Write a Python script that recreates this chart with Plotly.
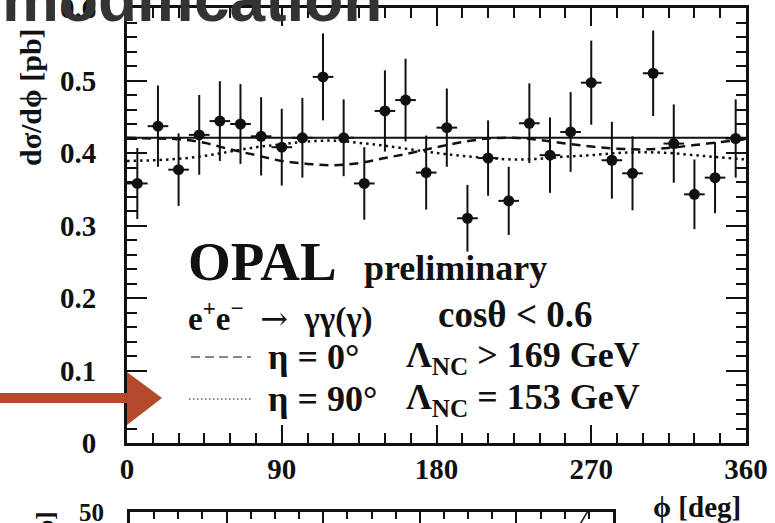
import plotly.graph_objects as go

W, H = 775, 523

# ---------------- data ----------------
phi_centers = [6, 18, 30, 42, 54, 66, 78, 90, 102, 114, 126, 138, 150, 162, 174,
               186, 198, 210, 222, 234, 246, 258, 270, 282, 294, 306, 318, 330, 342, 354]
phi_halfwidth = [6] * 30
dsig = [0.358, 0.437, 0.377, 0.425, 0.444, 0.440, 0.423, 0.408, 0.421, 0.505,
        0.421, 0.358, 0.458, 0.473, 0.373, 0.435, 0.310, 0.393, 0.334, 0.441,
        0.397, 0.429, 0.497, 0.390, 0.372, 0.510, 0.413, 0.343, 0.366, 0.420]
dsig_err = [0.049, 0.056, 0.050, 0.055, 0.055, 0.055, 0.054, 0.053, 0.055, 0.060,
            0.053, 0.050, 0.056, 0.057, 0.051, 0.054, 0.046, 0.052, 0.047, 0.055,
            0.052, 0.055, 0.058, 0.053, 0.051, 0.059, 0.054, 0.048, 0.049, 0.054]

sm_phi = [0, 360]
sm_value = [0.421, 0.421]

model_phi = [0, 15, 30, 45, 60, 75, 90, 105, 120, 135, 150, 165, 180,
             195, 210, 225, 240, 255, 270, 285, 300, 315, 330, 345, 360]
eta0 = [0.421, 0.420, 0.419, 0.414, 0.405, 0.397, 0.389, 0.385, 0.383, 0.386,
        0.393, 0.400, 0.408, 0.415, 0.420, 0.421, 0.418, 0.413, 0.409, 0.406,
        0.405, 0.407, 0.411, 0.415, 0.419]
eta90 = [0.389, 0.390, 0.392, 0.396, 0.402, 0.408, 0.412, 0.416, 0.417, 0.414,
         0.410, 0.405, 0.400, 0.396, 0.393, 0.391, 0.392, 0.395, 0.397, 0.400,
         0.401, 0.400, 0.397, 0.394, 0.391]

x_tickvals = [0, 90, 180, 270, 360]
x_ticktext = ["0", "90", "180", "270", "360"]
y_tickvals = [0, 0.1, 0.2, 0.3, 0.4, 0.5, 0.6]
y_ticktext = ["0", "0.1", "0.2", "0.3", "0.4", "0.5", "0.6"]

# lower (cut-off) panel
lower_x = [4.66, 4.70, 4.74]
lower_y = [47.6, 48.9, 50.2]
lower_ytick = [50]
lower_yticktext = ["50"]


def px(x):
    return x / W


def py(y):
    return 1 - y / H


SERIF = "Liberation Serif"
BLACK = "#111111"

fig = go.Figure()

fig.add_trace(go.Scatter(x=sm_phi, y=sm_value, mode="lines",
                         line=dict(color=BLACK, width=2), xaxis="x", yaxis="y"))
fig.add_trace(go.Scatter(x=model_phi, y=eta0, mode="lines", line_shape="spline",
                         line=dict(color=BLACK, width=2.5, dash="9px,6px"),
                         xaxis="x", yaxis="y"))
fig.add_trace(go.Scatter(x=model_phi, y=eta90, mode="lines", line_shape="spline",
                         line=dict(color=BLACK, width=2.5, dash="2.5px,4px"),
                         xaxis="x", yaxis="y"))
fig.add_trace(go.Scatter(
    x=phi_centers, y=dsig, mode="markers",
    marker=dict(color=BLACK, size=11),
    error_y=dict(type="data", array=dsig_err, color=BLACK, thickness=2, width=0),
    error_x=dict(type="data", array=phi_halfwidth, color=BLACK, thickness=2, width=0),
    xaxis="x", yaxis="y"))

fig.add_trace(go.Scatter(x=lower_x, y=lower_y, mode="lines",
                         line=dict(color=BLACK, width=1.5), xaxis="x2", yaxis="y2"))

axis_common = dict(showgrid=False, zeroline=False, showline=True, linecolor=BLACK,
                   linewidth=3, ticks="inside", tickcolor=BLACK, tickwidth=2,
                   mirror="ticks", automargin=False, ticklabeloverflow="allow")

fig.update_layout(
    width=W, height=H, margin=dict(l=0, r=0, t=0, b=0, pad=0),
    paper_bgcolor="white", plot_bgcolor="white", showlegend=False,
    xaxis=dict(domain=[px(127), px(746)], range=[0, 360], anchor="y",
               tickvals=x_tickvals, ticktext=x_ticktext, ticklen=18,
               minor=dict(ticks="inside", dtick=15, ticklen=10, tickwidth=2, tickcolor=BLACK),
               tickfont=dict(family=SERIF, size=29, color=BLACK, weight="bold"),
               ticklabelstandoff=-2, **axis_common),
    yaxis=dict(domain=[py(443), py(8)], range=[0, 0.6], anchor="x",
               tickvals=y_tickvals, ticktext=y_ticktext, ticklen=20,
               minor=dict(ticks="inside", dtick=0.02, ticklen=10, tickwidth=2, tickcolor=BLACK),
               tickfont=dict(family=SERIF, size=29, color=BLACK, weight="bold"),
               ticklabelstandoff=22, **axis_common),
    xaxis2=dict(domain=[px(130), px(613)], range=[0, 5], anchor="y2", side="top",
                showgrid=False, zeroline=False, showline=True, linecolor=BLACK,
                linewidth=3, ticks="inside", tickcolor=BLACK, tickwidth=2, ticklen=12,
                dtick=1, showticklabels=False, automargin=False,
                minor=dict(ticks="inside", dtick=0.25, ticklen=7, tickwidth=2, tickcolor=BLACK)),
    yaxis2=dict(domain=[0, py(512)], range=[47.8, 50], anchor="x2",
                showgrid=False, zeroline=False, showline=True, linecolor=BLACK,
                linewidth=3, mirror=True, ticks="", tickvals=lower_ytick,
                ticktext=lower_yticktext, ticklabelstandoff=18, automargin=False,
                ticklabeloverflow="allow",
                tickfont=dict(family=SERIF, size=25, color=BLACK, weight="bold")),
)

ann = []


def text(x, y, s, size, xanchor="left", yanchor="middle", bold=True, family=SERIF,
         color=BLACK, angle=0):
    ann.append(dict(x=px(x), y=py(y), xref="paper", yref="paper", text=s,
                    showarrow=False, xanchor=xanchor, yanchor=yanchor, textangle=angle,
                    font=dict(family=family, size=size, color=color,
                              weight="bold" if bold else "normal")))


ARROW = '<span style="font-family:DejaVu Serif;font-weight:normal">→</span>'

text(186, 261, "OPAL", 55)
text(362, 268, "preliminary", 36)
text(186, 316, f"e<sup>+</sup>e<sup>−</sup>\u00a0 {ARROW}\u00a0 γγ(γ)", 33)
text(436, 314, "cosθ < 0.6", 37)
text(266, 357, "η = 0°", 36)
text(266, 399, "η = 90°", 36)
text(404, 357, "Λ<sub>NC</sub> > 169 GeV", 36)
text(404, 399, "Λ<sub>NC</sub> = 153 GeV", 36)
text(697, 507, "ϕ [deg]", 29, xanchor="center")
text(30, 168, "dσ/dϕ [pb]", 30, xanchor="center", yanchor="bottom", angle=-90)
text(45, 510, "dσ/dϕ [pb]", 26, xanchor="center", yanchor="top", angle=-90)
# big overlay title fragment (drawn last, on top)
text(0, 37, "modification", 64, yanchor="bottom", family="Liberation Sans", color="#333333")

fig.update_layout(annotations=ann)

shapes = []
# legend sample lines
shapes.append(dict(type="line", xref="paper", yref="paper", x0=px(191), x1=px(251),
                   y0=py(357), y1=py(357), line=dict(color=BLACK, width=1.2, dash="9px,5px")))
shapes.append(dict(type="line", xref="paper", yref="paper", x0=px(189), x1=px(251),
                   y0=py(399), y1=py(399), line=dict(color=BLACK, width=1.2, dash="1.5px,2.5px")))
# red arrow overlay
ar = [(0, 393), (127, 393), (127, 372), (162, 398), (127, 425), (127, 403), (0, 403)]
path = "M " + " L ".join(f"{px(a):.5f},{py(b):.5f}" for a, b in ar) + " Z"
shapes.append(dict(type="path", xref="paper", yref="paper", path=path,
                   fillcolor="#b5492b", line=dict(width=0), layer="above"))
fig.update_layout(shapes=shapes)

fig.write_html("out.html")
